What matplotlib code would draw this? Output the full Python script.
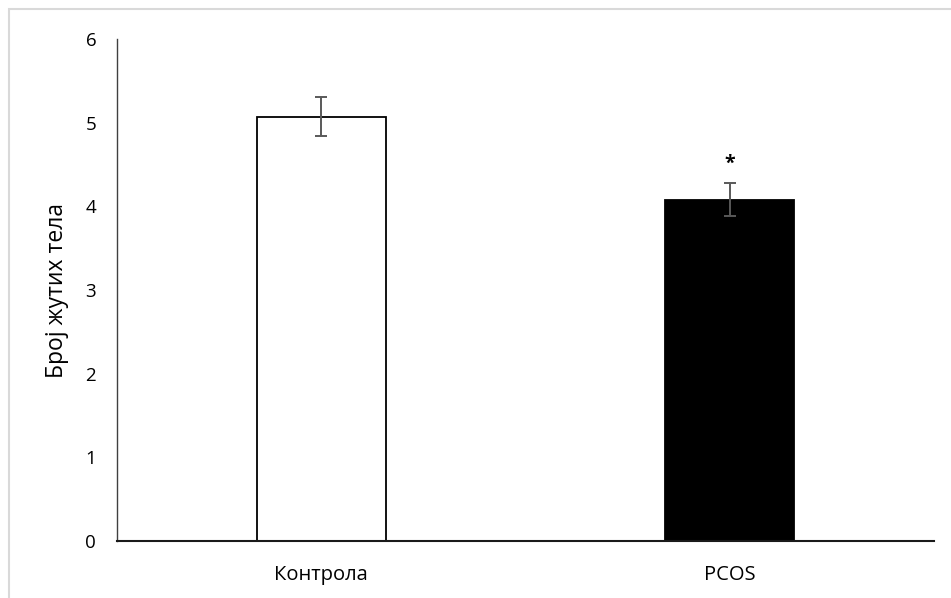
import matplotlib
matplotlib.use("Agg")
import matplotlib.pyplot as plt
from matplotlib.patches import Rectangle

# data
groups = ["Контрола", "PCOS"]
means = [5.07, 4.08]
errors = [0.235, 0.195]
colors = ["white", "black"]
y_ticks = [0, 1, 2, 3, 4, 5, 6]

plt.rcParams["font.family"] = ["Open Sans", "DejaVu Sans"]

W, H = 951, 598
fig = plt.figure(figsize=(W / 100, H / 100), dpi=100)

# light chart-area border (runs off the right and bottom edges)
fig.patches.append(Rectangle((8.5 / W, -0.05), 1.1, (H - 8.5) / H + 0.05,
                             transform=fig.transFigure, fill=False,
                             edgecolor="#d9d9d9", linewidth=1.5))

ax = fig.add_axes([117 / W, (H - 541) / H, (934 - 117) / W, (541 - 39) / H])

x = list(range(len(groups)))
ax.bar(x, means, width=0.315, color=colors, edgecolor="black", linewidth=1.3,
       zorder=2)
ax.errorbar(x, means, yerr=errors, fmt="none", ecolor="#595959",
            elinewidth=1.4, capsize=4.3, capthick=1.4, zorder=3)

# significance mark
ax.text(x[1], means[1] + errors[1] + 0.23, "*", ha="center", va="center",
        fontsize=14, fontweight="bold")

ax.set_xlim(-0.5, 1.5)
ax.set_ylim(0, 6)
ax.set_yticks(y_ticks)
ax.set_xticks(x)
ax.set_xticklabels(groups, fontsize=14.5)
ax.tick_params(axis="y", length=0, pad=15, labelsize=13.5)
ax.tick_params(axis="x", length=0, pad=17)
ax.set_ylabel("Број жутих тела", fontsize=16.5, labelpad=12)

for s in ["top", "right"]:
    ax.spines[s].set_visible(False)
ax.spines["left"].set_color("#404040")
ax.spines["left"].set_linewidth(1.0)
ax.spines["bottom"].set_color("#1a1a1a")
ax.spines["bottom"].set_linewidth(1.5)
ax.spines["bottom"].set_zorder(4)

fig.savefig("out.png", dpi=100)
